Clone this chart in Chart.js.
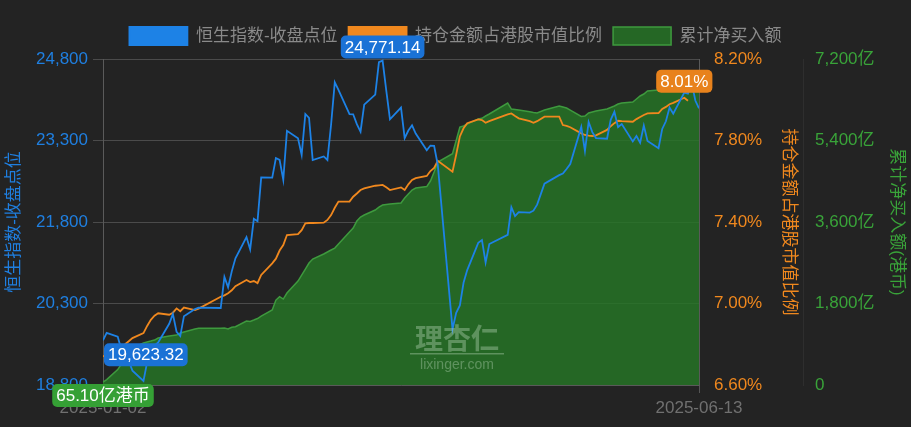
<!DOCTYPE html>
<html>
<head>
<meta charset="utf-8">
<script src="https://cdn.jsdelivr.net/npm/chart.js@4.4.1/dist/chart.umd.min.js"></script>
<style>
html, body { margin: 0; padding: 0; background: #232323; }
</style>
</head>
<body>
<canvas id="chart" width="911" height="427"></canvas>
<script>
const dates = [
    '2025-01-02','2025-01-03','2025-01-06','2025-01-07','2025-01-08','2025-01-09','2025-01-10','2025-01-13','2025-01-14','2025-01-15',
    '2025-01-16','2025-01-17','2025-01-20','2025-01-21','2025-01-22','2025-01-23','2025-01-24','2025-01-27','2025-01-28',
    '2025-02-03','2025-02-04','2025-02-05','2025-02-06','2025-02-07','2025-02-10','2025-02-11','2025-02-12','2025-02-13','2025-02-14',
    '2025-02-17','2025-02-18','2025-02-19','2025-02-20','2025-02-21','2025-02-24','2025-02-25','2025-02-26','2025-02-27','2025-02-28',
    '2025-03-03','2025-03-04','2025-03-05','2025-03-06','2025-03-07','2025-03-10','2025-03-11','2025-03-12','2025-03-13','2025-03-14',
    '2025-03-17','2025-03-18','2025-03-19','2025-03-20','2025-03-21','2025-03-24','2025-03-25','2025-03-26','2025-03-27','2025-03-28','2025-03-31',
    '2025-04-01','2025-04-02','2025-04-03','2025-04-07','2025-04-08','2025-04-09','2025-04-10','2025-04-11','2025-04-14','2025-04-15',
    '2025-04-16','2025-04-17','2025-04-22','2025-04-23','2025-04-24','2025-04-25','2025-04-28','2025-04-29','2025-04-30',
    '2025-05-02','2025-05-06','2025-05-07','2025-05-08','2025-05-09','2025-05-12','2025-05-13','2025-05-14','2025-05-15','2025-05-16',
    '2025-05-19','2025-05-20','2025-05-21','2025-05-22','2025-05-23','2025-05-26','2025-05-27','2025-05-28','2025-05-29','2025-05-30',
    '2025-06-02','2025-06-03','2025-06-04','2025-06-05','2025-06-06','2025-06-09','2025-06-10','2025-06-11','2025-06-12','2025-06-13'
];

// 恒生指数-收盘点位
const hsi = [
    19623.32,19760.27,19688.29,19447.58,19279.84,19240.89,19064.29,18874.14,19219.78,19286.07,
    19522.89,19584.06,19925.81,20106.55,19778.77,19700.56,20066.19,20197.77,20225.11,
    20217.26,20789.96,20597.09,20891.62,21133.54,21521.98,21294.86,21857.92,21814.37,22620.33,
    22616.23,22976.81,22944.24,22576.98,23477.92,23341.61,23034.02,23787.93,23718.29,22941.32,
    23006.27,22941.77,23594.21,24369.71,24231.30,23783.49,23782.14,23600.31,23462.65,23959.98,
    24145.57,24740.57,24771.14,24219.95,23689.72,23905.56,23344.25,23483.32,23578.80,23426.60,23119.58,
    23206.84,23202.53,22849.81,19828.30,20127.68,20264.49,20681.78,20914.69,21417.40,21466.27,
    21056.98,21395.14,21562.32,22072.62,21909.76,21980.74,21971.96,22008.11,22119.41,
    22504.68,22662.71,22691.88,22775.92,22867.74,23549.46,23108.27,23640.65,23453.16,23345.05,
    23332.72,23681.48,23827.78,23544.31,23601.26,23282.33,23381.99,23258.31,23573.38,23289.77,
    23157.97,23512.49,23654.03,23906.97,23792.54,24181.43,24162.87,24366.94,24035.38,23892.56
];

// 持仓金额占港股市值比例 (%)
const ratio = [
    6.74,6.75,6.77,6.79,6.80,6.815,6.83,6.855,6.89,6.92,
    6.94,6.952,6.945,6.955,6.976,6.962,6.98,6.968,6.975,
    7.033,7.04,7.05,7.065,7.085,7.115,7.105,7.11,7.10,7.14,
    7.197,7.22,7.26,7.287,7.336,7.34,7.36,7.393,7.395,7.395,
    7.397,7.41,7.434,7.47,7.50,7.50,7.524,7.54,7.557,7.565,
    7.578,7.58,7.582,7.57,7.557,7.57,7.557,7.585,7.606,7.615,7.626,
    7.65,7.665,7.70,7.647,7.73,7.82,7.86,7.885,7.904,7.90,
    7.887,7.895,7.928,7.933,7.92,7.909,7.895,7.887,7.895,
    7.917,7.917,7.876,7.872,7.865,7.835,7.827,7.824,7.822,7.825,
    7.852,7.87,7.885,7.897,7.895,7.892,7.905,7.915,7.925,7.933,
    7.935,7.955,7.965,7.978,7.985,8.01,7.995,null,null,null
];

// 累计净买入额 (亿港币)
const netBuy = [
    65.10,120,340,460,580,700,810,926,950,970,
    993,1037,1081,1092,1103,1147,1170,1236,1251,
    1251,1258,1236,1275,1287,1412,1405,1435,1468,1523,
    1656,1876,1950,1898,2031,2296,2429,2561,2694,2782,
    2893,2937,2981,3025,3113,3378,3467,3621,3710,3754,
    3864,3930,3975,3986,3997,4019,4130,4218,4306,4350,4383,
    4505,4704,4925,5110,5400,5698,5720,5764,5875,5890,
    5941,5985,6228,6095,6084,6073,6036,6020,6007,
    6073,6162,6140,6118,6073,5930,5940,6007,6030,6051,
    6095,6130,6162,6206,6228,6250,6316,6383,6427,6493,
    6515,6515,6520,6520,6525,6525,6530,6530,6530,6530
];

const leftTicks = [18800, 20300, 21800, 23300, 24800];
const ratioTicks = [6.6, 7.0, 7.4, 7.8, 8.2];
const netTicks = [0, 1800, 3600, 5400, 7200];

const BLUE = '#1d82e6';
const ORANGE = '#f0881e';
const GREEN = '#39a339';
const FONT = "'Liberation Sans', 'Noto Sans CJK SC', sans-serif";

Chart.defaults.font.family = FONT;

// x 用自然日偏移, 与原图的时间轴一致
const day0 = Date.parse(dates[0]);
const dayOf = s => Math.round((Date.parse(s) - day0) / 86400000);
const lastDay = dayOf(dates[dates.length - 1]);
const toPoints = arr => dates.map((d, i) => ({ x: dayOf(d), y: arr[i] }));

const fmt = n => n.toLocaleString('en-US');

const bgPlugin = {
    id: 'bg',
    beforeDraw(chart) {
        const ctx = chart.ctx;
        ctx.save();
        ctx.fillStyle = '#232323';
        ctx.fillRect(0, 0, chart.width, chart.height);
        ctx.restore();
    }
};

// 图例下方多留一点空隙
const legendGap = {
    id: 'legendGap',
    beforeLayout(chart) {
        const l = chart.legend;
        if (l && !l._patched) {
            const orig = l.fit;
            l.fit = function () { orig.call(this); this.height += 4; };
            l._patched = true;
        }
    }
};

function roundRect(ctx, x, y, w, h, r) {
    ctx.beginPath();
    ctx.moveTo(x + r, y);
    ctx.arcTo(x + w, y, x + w, y + h, r);
    ctx.arcTo(x + w, y + h, x, y + h, r);
    ctx.arcTo(x, y + h, x, y, r);
    ctx.arcTo(x, y, x + w, y, r);
    ctx.closePath();
}

const markLabels = {
    id: 'markLabels',
    afterDatasetsDraw(chart) {
        const ctx = chart.ctx;
        const area = chart.chartArea;

        // watermark
        ctx.save();
        ctx.fillStyle = 'rgba(200,225,200,0.35)';
        ctx.textAlign = 'center';
        ctx.textBaseline = 'middle';
        ctx.font = "bold 28px 'Noto Sans CJK SC', sans-serif";
        ctx.fillText('理杏仁', 457, 338);
        ctx.fillRect(410, 353, 94, 1.5);
        ctx.font = "14px " + FONT;
        ctx.fillText('lixinger.com', 457, 365);
        ctx.restore();

        const maxHsi = Math.max(...hsi);
        const maxRatio = Math.max(...ratio.filter(v => v !== null));
        const items = [
            { ds: 0, idx: hsi.indexOf(maxHsi), color: '#1a72d6',
              text: maxHsi.toLocaleString('en-US', { minimumFractionDigits: 2 }), place: 'above', gap: 2 },
            { ds: 0, idx: 0, color: '#1a72d6',
              text: hsi[0].toLocaleString('en-US', { minimumFractionDigits: 2 }), place: 'belowRight', gap: 3 },
            { ds: 2, idx: 0, color: '#35a035',
              text: netBuy[0].toFixed(2) + '亿港币', place: 'below', gap: 2 },
            { ds: 1, idx: ratio.indexOf(maxRatio), color: '#e8821c',
              text: maxRatio.toFixed(2) + '%', place: 'above', gap: 5 }
        ];
        ctx.save();
        ctx.font = '17px ' + FONT;
        ctx.textBaseline = 'middle';
        ctx.textAlign = 'center';
        items.forEach(it => {
            const el = chart.getDatasetMeta(it.ds).data[it.idx];
            const w = ctx.measureText(it.text).width + 8;
            const h = 23;
            let x, y;
            if (it.place === 'above') { x = el.x - w / 2; y = el.y - it.gap - h; }
            else if (it.place === 'belowRight') { x = el.x + 1; y = el.y + it.gap; }
            else { x = el.x - w / 2; y = el.y + it.gap; }
            ctx.fillStyle = it.color;
            roundRect(ctx, x, y, w, h, 5);
            ctx.fill();
            ctx.fillStyle = '#ffffff';
            ctx.fillText(it.text, x + w / 2, y + h / 2 + 1);
        });
        ctx.restore();
    }
};

const ctx = document.getElementById('chart');
new Chart(ctx, {
    type: 'line',
    data: {
        datasets: [{
            label: '恒生指数-收盘点位',
            data: toPoints(hsi),
            yAxisID: 'y',
            borderColor: BLUE,
            backgroundColor: BLUE,
            borderWidth: 1.8,
            pointRadius: 0,
            tension: 0
        }, {
            label: '持仓金额占港股市值比例',
            data: toPoints(ratio),
            yAxisID: 'y1',
            borderColor: ORANGE,
            backgroundColor: ORANGE,
            borderWidth: 1.8,
            pointRadius: 0,
            tension: 0,
            spanGaps: false
        }, {
            label: '累计净买入额',
            data: toPoints(netBuy),
            yAxisID: 'y2',
            borderColor: '#3e9a3e',
            backgroundColor: 'rgba(38,118,38,0.82)',
            borderWidth: 1.5,
            pointRadius: 0,
            tension: 0,
            fill: 'start'
        }]
    },
    options: {
        responsive: false,
        animation: false,
        layout: { padding: { top: 16, left: 0, right: 0, bottom: 0 } },
        plugins: {
            legend: {
                position: 'top',
                labels: {
                    boxWidth: 58,
                    boxHeight: 18,
                    padding: 11,
                    color: '#8a8a8a',
                    font: { size: 17 }
                }
            },
            tooltip: { enabled: false }
        },
        scales: {
            x: {
                type: 'linear',
                min: 0,
                max: lastDay,
                afterBuildTicks: s => { s.ticks = [{ value: 0 }, { value: lastDay }]; },
                afterFit: s => { s.height = 42; },
                ticks: {
                    autoSkip: false,
                    maxRotation: 0,
                    color: '#707070',
                    font: { size: 17 },
                    padding: 5,
                    callback: (v, i) => i === 0 ? dates[0] : dates[dates.length - 1]
                },
                grid: { drawOnChartArea: false, drawTicks: true, tickLength: 8, color: '#555555' },
                border: { color: '#5a5a5a' }
            },
            y: {
                position: 'left',
                min: leftTicks[0],
                max: leftTicks[leftTicks.length - 1],
                afterBuildTicks: s => { s.ticks = leftTicks.map(v => ({ value: v })); },
                afterFit: s => { s.width = 103; },
                ticks: { color: '#1f7fe0', font: { size: 17 }, padding: 5, callback: v => fmt(v) },
                grid: { color: '#4b4b4b', tickLength: 10 },
                border: { color: '#5a5a5a' },
                title: { display: true, text: '恒生指数-收盘点位', color: '#1f7fe0', font: { size: 17 }, padding: 4 }
            },
            y1: {
                position: 'right',
                min: ratioTicks[0],
                max: ratioTicks[ratioTicks.length - 1],
                afterBuildTicks: s => { s.ticks = ratioTicks.map(v => ({ value: v })); },
                afterFit: s => { s.width = 104; },
                ticks: { color: ORANGE, font: { size: 17 }, padding: 15, callback: v => v.toFixed(2) + '%' },
                grid: { drawOnChartArea: false, drawTicks: false },
                border: { color: '#5a5a5a' },
                title: { display: true, text: '持仓金额占港股市值比例', color: ORANGE, font: { size: 17 }, padding: 4 }
            },
            y2: {
                position: 'right',
                min: netTicks[0],
                max: netTicks[netTicks.length - 1],
                afterBuildTicks: s => { s.ticks = netTicks.map(v => ({ value: v })); },
                afterFit: s => { s.width = 108; },
                ticks: { color: GREEN, font: { size: 17 }, padding: 12, callback: v => v === 0 ? '0' : fmt(v) + '亿' },
                grid: { drawOnChartArea: false, drawTicks: false },
                border: { color: '#2e2e2e' },
                title: { display: true, text: '累计净买入额(港币)', color: GREEN, font: { size: 17 }, padding: 4 }
            }
        }
    },
    plugins: [bgPlugin, legendGap, markLabels]
});
</script>
</body>
</html>
